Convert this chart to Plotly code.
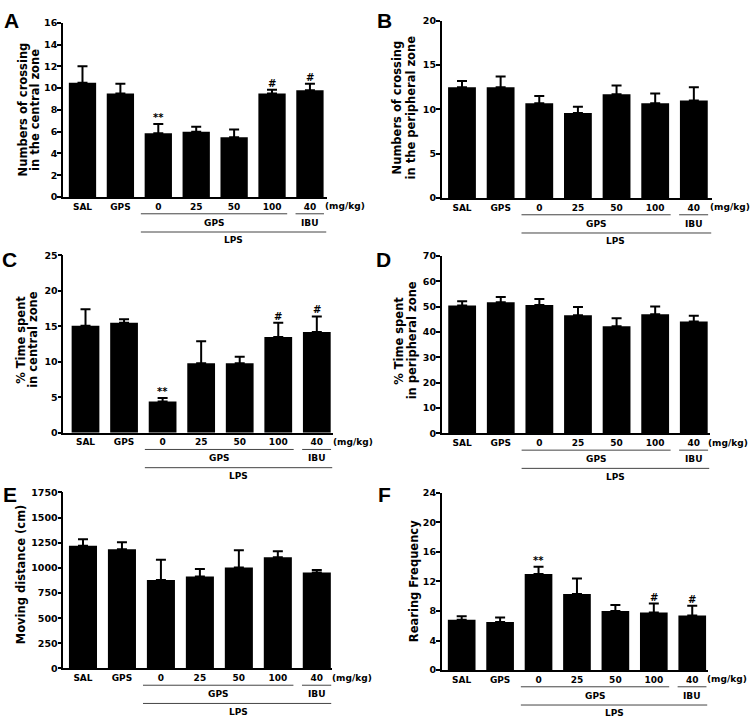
import plotly.graph_objects as go

categories = ["SAL", "GPS", "0", "25", "50", "100", "40"]

a_mean = [10.5, 9.5, 5.85, 6.0, 5.5, 9.5, 9.8]
a_sem = [1.5, 0.9, 0.85, 0.45, 0.7, 0.35, 0.6]
a_sig = ["", "", "**", "", "", "#", "#"]

b_mean = [12.5, 12.5, 10.7, 9.6, 11.7, 10.7, 11.0]
b_sem = [0.7, 1.2, 0.8, 0.7, 1.0, 1.1, 1.5]
b_sig = ["", "", "", "", "", "", ""]

c_mean = [15.1, 15.5, 4.4, 9.8, 9.8, 13.5, 14.2]
c_sem = [2.3, 0.5, 0.5, 3.1, 0.9, 2.0, 2.2]
c_sig = ["", "", "**", "", "", "#", "#"]

d_mean = [50.5, 51.8, 50.7, 46.7, 42.3, 47.1, 44.2]
d_sem = [1.7, 2.1, 2.4, 3.2, 3.2, 3.0, 2.3]
d_sig = ["", "", "", "", "", "", ""]

e_mean = [1220, 1185, 880, 915, 1005, 1105, 955]
e_sem = [65, 70, 200, 75, 170, 60, 25]
e_sig = ["", "", "", "", "", "", ""]

f_mean = [6.8, 6.5, 13.0, 10.3, 8.0, 7.8, 7.4]
f_sem = [0.5, 0.6, 1.0, 2.1, 0.8, 1.2, 1.3]
f_sig = ["", "", "**", "", "", "#", "#"]

y_titles = [
    ["Numbers of crossing", "in the central zone"],
    ["Numbers of crossing", "in the peripheral zone"],
    ["% Time spent", "in central zone"],
    ["% Time spent", "in peripheral zone"],
    ["Moving distance (cm)"],
    ["Rearing Frequency"],
]
y_max = [16, 20, 25, 70, 1750, 24]
y_step = [2, 5, 5, 10, 250, 4]
letters = ["A", "B", "C", "D", "E", "F"]
means = [a_mean, b_mean, c_mean, d_mean, e_mean, f_mean]
sems = [a_sem, b_sem, c_sem, d_sem, e_sem, f_sem]
sigs = [a_sig, b_sig, c_sig, d_sig, e_sig, f_sig]

W, H = 750, 724
# panel geometry in pixels: x0, x1, ytop, ybot, range
geo = [
    (63, 327, 17, 194, (-0.514, 6.45)),
    (441.7, 712, 15, 195, (-0.525, 6.47)),
    (63.3, 333, 253.3, 433.3, (-0.576, 6.42)),
    (441.7, 710, 254, 434, (-0.53, 6.42)),
    (63.3, 332, 494, 672.7, (-0.505, 6.39)),
    (441.7, 708, 494.3, 674.3, (-0.52, 6.41)),
]
letter_pos = [(11.5, 14.5), (384, 14.5), (9, 257), (383, 257.5), (10, 496), (384, 496)]
title_x = [(22.5, 35), (397, 411), (21, 33), (399, 411.5), (21,), (414,)]
title_y = [105.5, 103, 339, 340, 577, 584]
mgkg_x = [345, 730, 353.3, 728, 351.7, 726.7]

FONT = "DejaVu Sans"
def px(x):
    return x / W
def py(y):
    return 1 - y / H

fig = go.Figure()
shapes = []
annos = []
layout = {}
for i in range(6):
    sx = "" if i == 0 else str(i + 1)
    xa, ya = "x" + sx, "y" + sx
    x0, x1, yt, yb, rng = geo[i]
    fig.add_trace(go.Bar(
        x=categories, y=means[i], width=0.72,
        marker=dict(color="black", line=dict(width=0)),
        error_y=dict(type="data", symmetric=False, array=sems[i],
                     arrayminus=[0] * 7, color="black", thickness=2, width=5),
        xaxis=xa, yaxis=ya, showlegend=False))
    layout["xaxis" + sx] = dict(
        domain=[px(x0), px(x1)], anchor=ya, type="category", range=list(rng),
        showline=True, linecolor="black", linewidth=1.5, ticks="",
        showgrid=False, zeroline=False,
        tickfont=dict(family=FONT, size=9, color="black", weight="bold"))
    layout["yaxis" + sx] = dict(
        domain=[py(yb), py(yt)], anchor=xa, range=[0, y_max[i]], dtick=y_step[i],
        tick0=0, showline=True, linecolor="black", linewidth=1.5,
        ticks="outside", ticklen=4, tickwidth=1.5, tickcolor="black",
        ticklabelstandoff=-2,
        showgrid=False, zeroline=False,
        tickfont=dict(family=FONT, size=9.5, color="black", weight="bold"))
    # significance marks
    for k in range(7):
        if sigs[i][k]:
            annos.append(dict(x=k, y=means[i][k] + sems[i][k],
                              xref=xa, yref=ya, text=sigs[i][k], showarrow=False,
                              xanchor="center", yanchor="bottom", yshift=-1,
                              font=dict(family=FONT, size=10, color="black", weight="bold")))
    # brackets
    lc = "#444444"
    shapes.append(dict(type="line", xref=xa, yref="paper", x0=1.54, x1=5.40,
                       y0=py(yb + 17), y1=py(yb + 17), line=dict(color=lc, width=1)))
    shapes.append(dict(type="line", xref=xa, yref="paper", x0=5.62, x1=6.37,
                       y0=py(yb + 17), y1=py(yb + 17), line=dict(color=lc, width=1)))
    shapes.append(dict(type="line", xref=xa, yref="paper", x0=1.54, x1=rng[1] - 0.02,
                       y0=py(yb + 35.5), y1=py(yb + 35.5), line=dict(color=lc, width=1)))
    tf = dict(family=FONT, size=9, color="black", weight="bold")
    for tx_, ty_, tt in [(3.47, yb + 26, "GPS"), (6.0, yb + 26, "IBU"), (3.98, yb + 44, "LPS")]:
        annos.append(dict(x=tx_, y=py(ty_), xref=xa, yref="paper", text=tt,
                          showarrow=False, xanchor="center", yanchor="middle", font=tf))
    annos.append(dict(x=px(mgkg_x[i]), y=py(yb + 9.5), xref="paper", yref="paper",
                      text="(mg/kg)", showarrow=False, xanchor="center",
                      yanchor="middle", font=tf))
    # panel letter
    lx, ly = letter_pos[i]
    annos.append(dict(x=px(lx), y=py(ly), xref="paper", yref="paper", text=letters[i],
                      showarrow=False, xanchor="center", yanchor="middle",
                      font=dict(family="Liberation Sans", size=21, color="black", weight="bold")))
    # y title, one annotation per line
    for line_text, lxp in zip(y_titles[i], title_x[i]):
        annos.append(dict(x=px(lxp), y=py(title_y[i]), xref="paper", yref="paper",
                          text=line_text, textangle=-90, showarrow=False,
                          xanchor="center", yanchor="middle",
                          font=dict(family=FONT, size=11.5, color="black", weight="bold")))

fig.update_layout(**layout)
fig.update_layout(width=W, height=H, margin=dict(l=0, r=0, t=0, b=0),
                  paper_bgcolor="white", plot_bgcolor="white",
                  shapes=shapes, annotations=annos)
fig.write_html("out.html", config={"displayModeBar": False},
               post_script="document.body.style.margin='0';")
